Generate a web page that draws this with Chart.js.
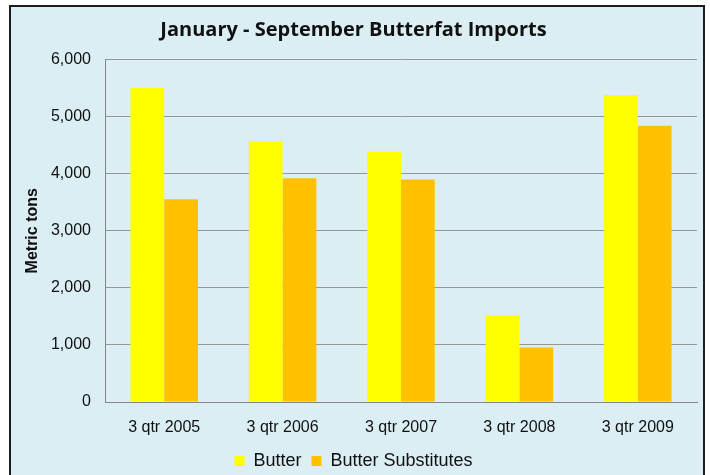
<!DOCTYPE html>
<html>
<head>
<meta charset="utf-8">
<script src="https://cdn.jsdelivr.net/npm/chart.js@4"></script>
<style>
  body { margin: 0; background: #fff; }
  canvas { display: block; }
</style>
</head>
<body>
<canvas id="bar-chart" width="710" height="475"></canvas>
<script>
var quarters = ["3 qtr 2005", "3 qtr 2006", "3 qtr 2007", "3 qtr 2008", "3 qtr 2009"];
var butter = [5500, 4570, 4390, 1520, 5380];
var butterSubstitutes = [3550, 3920, 3900, 955, 4840];
var yTicks = [0, 1000, 2000, 3000, 4000, 5000, 6000];

// light blue panel with dark frame, drawn behind the chart
var panel = {
    id: 'panel',
    beforeDraw: function (chart) {
        var ctx = chart.ctx;
        ctx.save();
        ctx.fillStyle = '#ffffff';
        ctx.fillRect(0, 0, chart.width, chart.height);
        ctx.fillStyle = '#DAEEF3';
        ctx.fillRect(10, 6, 694, 480);
        ctx.strokeStyle = '#1c1c1c';
        ctx.lineWidth = 2;
        ctx.strokeRect(10, 6, 694, 480);
        ctx.restore();
    }
};

new Chart(document.getElementById("bar-chart"), {
    type: 'bar',
    data: {
        labels: quarters,
        datasets: [
            {
                label: "Butter",
                backgroundColor: "#FFFF00",
                data: butter
            },
            {
                label: "Butter Substitutes",
                backgroundColor: "#FFC000",
                data: butterSubstitutes
            }
        ]
    },
    plugins: [panel],
    options: {
        responsive: false,
        animation: false,
        layout: { padding: { left: 10, right: 13, top: 6, bottom: -5 } },
        datasets: { bar: { categoryPercentage: 0.57, barPercentage: 1.0 } },
        plugins: {
            title: {
                display: true,
                text: 'January - September Butterfat Imports',
                color: '#111',
                font: { family: 'Open Sans', size: 20, weight: 'bold' },
                padding: { top: 12, bottom: 17.5 }
            },
            legend: {
                position: 'bottom',
                labels: {
                    color: '#111',
                    boxWidth: 10,
                    boxHeight: 10,
                    font: { family: 'Liberation Sans', size: 18 }
                }
            },
            tooltip: { enabled: false }
        },
        scales: {
            x: {
                grid: { display: false, drawTicks: false },
                border: { color: '#868686' },
                ticks: { color: '#111', padding: 16, font: { family: 'Liberation Sans', size: 16 } },
                afterFit: function (s) { s.height = 40; }
            },
            y: {
                min: 0,
                max: 6000,
                afterBuildTicks: function (s) { s.ticks = yTicks.map(function (v) { return { value: v }; }); },
                grid: { color: '#969696', drawTicks: false },
                border: { color: '#868686' },
                ticks: {
                    color: '#111',
                    padding: 14,
                    font: { family: 'Liberation Sans', size: 16 },
                    callback: function (v) { return v.toLocaleString('en-US'); }
                },
                title: {
                    display: true,
                    text: 'Metric tons',
                    color: '#111',
                    padding: { top: 13 },
                    font: { family: 'Liberation Sans', size: 16, weight: 'bold' }
                },
                afterFit: function (s) { s.width = 95; }
            }
        }
    }
});
</script>
</body>
</html>
